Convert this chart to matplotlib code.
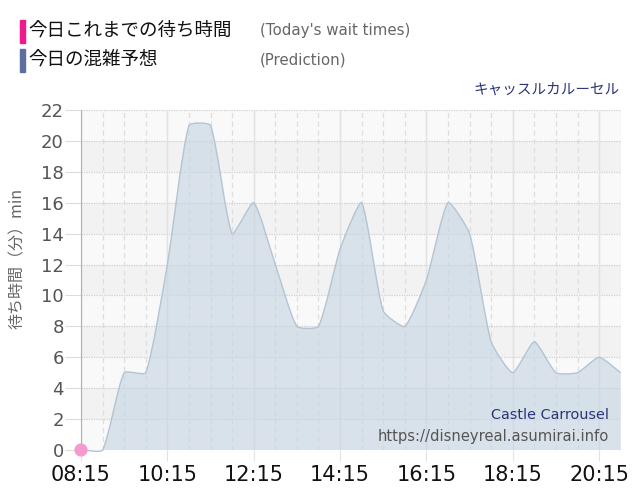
import matplotlib
matplotlib.use('Agg')
import matplotlib.pyplot as plt
from matplotlib.path import Path
from matplotlib.patches import PathPatch, Rectangle
import numpy as np

plt.rcParams['font.family'] = ['DejaVu Sans', 'Noto Sans CJK JP']

# ---- data ----
times = ["08:15", "08:45", "09:15", "09:45", "10:15", "10:45", "11:15", "11:45",
         "12:15", "12:45", "13:15", "13:45", "14:15", "14:45", "15:15", "15:45",
         "16:15", "16:45", "17:15", "17:45", "18:15", "18:45", "19:15", "19:45",
         "20:15", "20:45"]
prediction = [0, 0, 5, 5, 12, 21, 21, 14, 16, 12, 8, 8, 13, 16, 9, 8,
              11, 16, 14, 7, 5, 7, 5, 5, 6, 5]
today_times = ["08:15"]
today_waits = [0]
xtick_labels = ["08:15", "10:15", "12:15", "14:15", "16:15", "18:15", "20:15"]
yticks = list(range(0, 23, 2))


def to_h(t):
    h, m = t.split(":")
    return int(h) + int(m) / 60.0


xs = np.array([to_h(t) for t in times])
ys = np.array(prediction, dtype=float)

W, H = 640, 500
fig = plt.figure(figsize=(W / 100, H / 100), dpi=100)
L, R, T, B = 81, 620.7, 110, 450
ax = fig.add_axes([L / W, 1 - B / H, (R - L) / W, (B - T) / H])
x0, x1 = to_h("08:15"), to_h("20:45")
ax.set_xlim(x0, x1)
ax.set_ylim(0, 22)

# pixel scales for spline tension
sx = (R - L) / (x1 - x0)
sy = (B - T) / 22.0

# background bands
for k in range(11):
    c = '#f2f2f2' if k % 2 == 1 else '#f9f9f9'
    ax.axhspan(2 * k, 2 * k + 2, color=c, zorder=0, lw=0)

# grid
for y in yticks[1:]:
    ax.axhline(y, color='#cfcfcf', lw=0.9, ls=(0, (1, 1)), zorder=1)
minor = np.arange(x0, x1 + 0.01, 0.5)
for xv in minor:
    ax.axvline(xv, color='#dddddd', lw=0.9, ls=(0, (4, 3)), zorder=1)
for lab in xtick_labels:
    ax.axvline(to_h(lab), color='#e2e2e2', lw=1.0, zorder=1)

# bezier spline (Chart.js style)
px = xs * sx
py = ys * sy
n = len(xs)
verts = [(xs[0], ys[0])]
codes = [Path.MOVETO]
tension = 0.18
cps = []
for i in range(n):
    ip = max(i - 1, 0)
    inx = min(i + 1, n - 1)
    d01 = np.hypot(px[i] - px[ip], py[i] - py[ip])
    d12 = np.hypot(px[inx] - px[i], py[inx] - py[i])
    tot = d01 + d12 if d01 + d12 > 0 else 1
    fa = tension * d01 / tot
    fb = tension * d12 / tot
    prev_cp = (xs[i] - fa * (xs[inx] - xs[ip]), ys[i] - fa * (ys[inx] - ys[ip]))
    next_cp = (xs[i] + fb * (xs[inx] - xs[ip]), ys[i] + fb * (ys[inx] - ys[ip]))
    cps.append((prev_cp, next_cp))
for i in range(1, n):
    verts += [cps[i - 1][1], cps[i][0], (xs[i], ys[i])]
    codes += [Path.CURVE4] * 3
line_path = Path(verts, codes)
fill_verts = verts + [(xs[-1], 0), (xs[0], 0), (xs[0], ys[0])]
fill_codes = codes + [Path.LINETO, Path.LINETO, Path.CLOSEPOLY]
ax.add_patch(PathPatch(Path(fill_verts, fill_codes), facecolor='#c6d5e2', alpha=0.62,
                       edgecolor='none', zorder=2))
ax.add_patch(PathPatch(line_path, facecolor='none', edgecolor='#b3c4d3', lw=1.0,
                       zorder=3, clip_on=False))

# today's point
ax.scatter([to_h(t) for t in today_times], today_waits, s=90, color='#f59ad0',
           zorder=5, clip_on=False, edgecolors='none')

# axes styling
for s in ['top', 'right', 'bottom']:
    ax.spines[s].set_visible(False)
ax.spines['left'].set_color('#b0b0b0')
ax.set_yticks(yticks)
ax.set_yticklabels([str(v) for v in yticks], fontsize=13, color='#555555')
ax.set_xticks([to_h(t) for t in xtick_labels])
ax.set_xticklabels(xtick_labels, fontsize=15, color='#111111')
ax.tick_params(axis='y', length=11.5, color='#dddddd', pad=1)
ax.tick_params(axis='x', length=8, color='#e2e2e2', pad=3)

cjk = ['Noto Sans CJK JP', 'DejaVu Sans']
fig.text(17 / W, 1 - 258 / H, '待ち時間（分）min', rotation=90, ha='center', va='center',
         fontsize=11.5, color='#666666', family=cjk)

# watermark
fig.text(609 / W, 1 - 415 / H, 'Castle Carrousel', ha='right', va='center',
         fontsize=10.4, color='#2b3578')
fig.text(609 / W, 1 - 436 / H, 'https://disneyreal.asumirai.info', ha='right',
         va='center', fontsize=10.6, color='#555555')

# legend header
fig.patches.append(Rectangle((20 / W, 1 - 43 / H), 5 / W, 23 / H, transform=fig.transFigure,
                             color='#f0188c'))
fig.patches.append(Rectangle((20 / W, 1 - 72 / H), 5 / W, 23 / H, transform=fig.transFigure,
                             color='#5b6fa0'))
fig.text(28 / W, 1 - 31 / H, '今日これまでの待ち時間', ha='left', va='center',
         fontsize=13.3, color='#111111', family=cjk)
fig.text(28 / W, 1 - 60 / H, '今日の混雑予想', ha='left', va='center',
         fontsize=13.3, color='#111111', family=cjk)
fig.text(260 / W, 1 - 31 / H, "(Today's wait times)", ha='left', va='center',
         fontsize=10.8, color='#666666')
fig.text(260 / W, 1 - 60 / H, "(Prediction)", ha='left', va='center',
         fontsize=10.8, color='#666666')
fig.text(620 / W, 1 - 90 / H, 'キャッスルカルーセル', ha='right', va='center',
         fontsize=10.5, color='#2b3578', family=cjk)

fig.savefig('out.png', dpi=100, facecolor='white')
